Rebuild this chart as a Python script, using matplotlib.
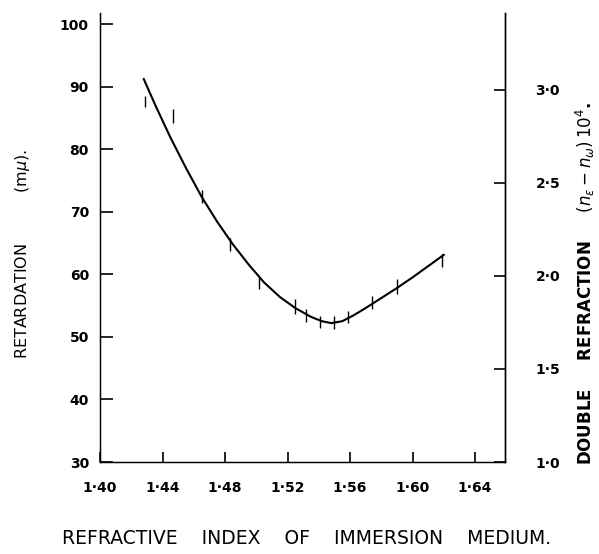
import matplotlib
matplotlib.use('Agg')
import matplotlib.pyplot as plt

# Smooth fitted curve (retardation, m-mu)
curve_x = [1.428, 1.436, 1.445, 1.455, 1.465, 1.475, 1.485, 1.495, 1.505, 1.515, 1.525,
           1.535, 1.542, 1.548, 1.555, 1.562, 1.570, 1.580, 1.590, 1.600, 1.610, 1.620]
curve_y = [91.2, 86.7, 81.9, 77.0, 72.4, 68.4, 64.8, 61.6, 58.7, 56.4, 54.6,
           53.2, 52.5, 52.2, 52.5, 53.4, 54.6, 56.2, 57.8, 59.5, 61.3, 63.1]

# Measured points with their spread
point_x = [1.429, 1.4465, 1.465, 1.4834, 1.502, 1.525, 1.532, 1.541, 1.550, 1.559, 1.574, 1.590, 1.619]
point_y = [87.6, 85.3, 72.4, 64.8, 58.6, 54.8, 53.4, 52.4, 52.3, 53.2, 55.5, 58.0, 62.2]
point_err = [0.9, 1.1, 1.0, 1.0, 1.0, 1.2, 1.0, 1.0, 1.0, 1.0, 1.0, 1.2, 1.0]

x_ticks = [1.40, 1.44, 1.48, 1.52, 1.56, 1.60, 1.64]
x_tick_labels = ['1·40', '1·44', '1·48', '1·52', '1·56', '1·60', '1·64']
left_ticks = [30, 40, 50, 60, 70, 80, 90, 100]
right_ticks = [1.0, 1.5, 2.0, 2.5, 3.0]
right_tick_labels = ['1·0', '1·5', '2·0', '2·5', '3·0']

fig = plt.figure(figsize=(5.99, 5.54), dpi=100)
ax = fig.add_axes([100 / 599, 92 / 554, 405 / 599, 449 / 554])

ax.plot(curve_x, curve_y, color='black', lw=1.5)
ax.errorbar(point_x, point_y, yerr=point_err, fmt='none', ecolor='black', elinewidth=1.0, capsize=0)

ax.set_xlim(1.40, 1.6592)
ax.set_ylim(30, 101.76)
ax.set_xticks(x_ticks)
ax.set_xticklabels(x_tick_labels)
ax.set_yticks(left_ticks)

for side in ['left', 'right', 'bottom']:
    ax.spines[side].set_linewidth(1.0)
ax.spines['top'].set_visible(False)

ax.tick_params(axis='x', direction='in', length=7, width=1.2, labelsize=10, pad=14)
ax.tick_params(axis='y', direction='in', length=9, width=1.2, labelsize=10, pad=8)
for lbl in ax.get_xticklabels() + ax.get_yticklabels():
    lbl.set_fontweight('bold')

ax2 = ax.twinx()
ax2.set_ylim(1.0, 3.413)
ax2.set_yticks(right_ticks)
ax2.set_yticklabels(right_tick_labels)
ax2.spines['top'].set_visible(False)
ax2.spines['right'].set_linewidth(1.0)
ax2.tick_params(axis='y', direction='in', length=8, width=1.2, labelsize=10, pad=22)
for lbl in ax2.get_yticklabels():
    lbl.set_fontweight('bold')

fig.text(307 / 599, 1 - 538 / 554, 'REFRACTIVE    INDEX    OF    IMMERSION    MEDIUM.',
         ha='center', va='center', fontsize=13.5)
fig.text(23 / 599, 1 - 254 / 554, 'RETARDATION          (m$\\mu$).',
         ha='center', va='center', rotation=90, fontsize=11.5)
fig.text(585 / 599, 1 - 284 / 554, 'DOUBLE     REFRACTION     $(n_{\\epsilon} - n_{\\omega})\\,10^{4}$.',
         ha='center', va='center', rotation=90, fontsize=12, fontweight='bold')

fig.savefig('out.png', dpi=100)
